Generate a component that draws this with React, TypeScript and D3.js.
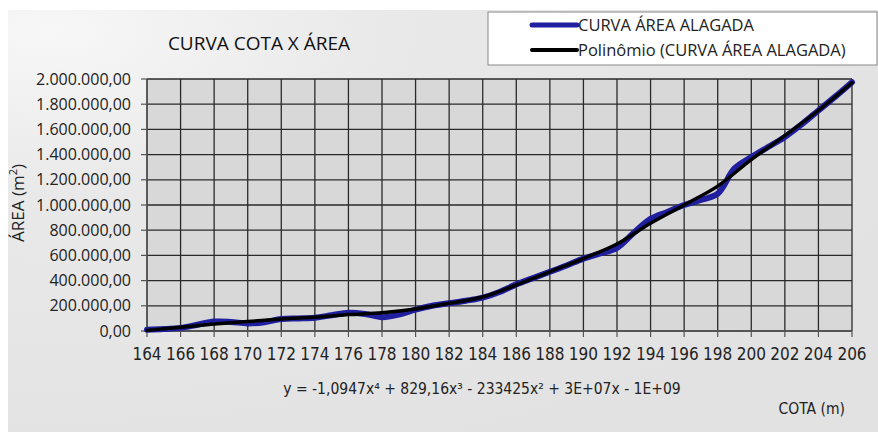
import React from "react";
import * as d3 from "d3";

const cotas = [164,165,166,167,168,169,170,171,172,173,174,175,176,177,178,179,180,181,182,183,184,185,186,187,188,189,190,191,192,193,194,195,196,197,198,199,200,201,202,203,204,205,206];
const areaAlagada = [10000,15000,25000,50000,75000,72000,60000,70000,95000,100000,105000,125000,145000,135000,110000,130000,170000,200000,220000,240000,265000,310000,370000,420000,470000,520000,575000,615000,660000,780000,890000,945000,1000000,1040000,1090000,1290000,1380000,1460000,1540000,1640000,1750000,1860000,1975000];

const trendCotas = [164,166,168,170,172,174,176,178,180,182,184,186,188,190,192,194,196,198,200,202,204,206];
const trendArea = [5000,30000,55000,75000,95000,110000,130000,145000,175000,220000,270000,365000,470000,575000,690000,855000,1000000,1150000,1360000,1550000,1750000,1970000];

const xTicks = d3.range(164, 207, 2);
const yTicks = d3.range(0, 2000001, 200000);

const title = "CURVA COTA X ÁREA";
const seriesNames = ["CURVA ÁREA ALAGADA", "Polinômio (CURVA ÁREA ALAGADA)"];
const equation = "y = -1,0947x⁴ + 829,16x³ - 233425x² + 3E+07x - 1E+09";

const fmt = (v: number) => {
  const s = d3.format(",.2f")(v);
  return s.replace(/,/g, "#").replace(".", ",").replace(/#/g, ".");
};

export default function App() {
  const W = 878, H = 432;
  const L = 147, R = 852, T = 79, B = 331;
  const x = d3.scaleLinear().domain([164, 206]).range([L, R]);
  const y = d3.scaleLinear().domain([0, 2000000]).range([B, T]);
  const line = d3.line<[number, number]>().x(d => x(d[0])).y(d => y(d[1])).curve(d3.curveCatmullRom.alpha(0.5));
  const blue = line(cotas.map((c, i) => [c, areaAlagada[i]] as [number, number])) || "";
  const black = line(trendCotas.map((c, i) => [c, trendArea[i]] as [number, number])) || "";
  const sans = "'Open Sans', sans-serif";
  const narrow = "'Liberation Sans Narrow', 'DejaVu Sans Condensed', sans-serif";
  return (
    <svg width={W} height={H} style={{ position: "absolute", left: 0, top: 0, display: "block" }}>
      <defs>
        <radialGradient id="bg" cx="0.05" cy="0.05" r="1.1">
          <stop offset="0" stopColor="#f7f7f7" />
          <stop offset="0.35" stopColor="#e9e9e9" />
          <stop offset="1" stopColor="#e2e2e2" />
        </radialGradient>
      </defs>
      <rect x={0} y={0} width={W} height={H} fill="#ffffff" />
      <rect x={8} y={10} width={W - 8} height={H - 10} fill="url(#bg)" />
      <text x={259} y={50} textAnchor="middle" fontFamily={sans} fontSize={19} fill="#111">{title}</text>
      <rect x={L} y={T} width={R - L} height={B - T} fill="#d8d8d8" />
      {xTicks.map(t => (
        <line key={"gx" + t} x1={x(t)} x2={x(t)} y1={T} y2={B} stroke="#2a2a2a" strokeWidth={1.3} />
      ))}
      {yTicks.map(t => (
        <line key={"gy" + t} x1={L} x2={R} y1={y(t)} y2={y(t)} stroke="#2a2a2a" strokeWidth={1.3} />
      ))}
      <line x1={L} x2={L} y1={T} y2={B} stroke="#555" strokeWidth={1.5} />
      <line x1={L} x2={R} y1={B} y2={B} stroke="#555" strokeWidth={1.5} />
      {yTicks.map(t => (
        <g key={"ty" + t}>
          <line x1={L - 6} x2={L} y1={y(t)} y2={y(t)} stroke="#555" strokeWidth={1.2} />
          <text x={L - 16} y={y(t) + 5.5} textAnchor="end" fontFamily={sans} fontSize={16} fill="#222">{fmt(t)}</text>
        </g>
      ))}
      {xTicks.map(t => (
        <g key={"tx" + t}>
          <line x1={x(t)} x2={x(t)} y1={B} y2={B + 6} stroke="#555" strokeWidth={1.2} />
          <text x={x(t)} y={B + 29} textAnchor="middle" fontFamily={narrow} fontSize={17} fill="#222">{t}</text>
        </g>
      ))}
      <path d={blue} fill="none" stroke="#1f1fa0" strokeWidth={6} strokeLinejoin="round" strokeLinecap="round" />
      <path d={black} fill="none" stroke="#000" strokeWidth={3.5} strokeLinejoin="round" strokeLinecap="round" />
      <text transform={`translate(24,203) rotate(-90)`} textAnchor="middle" fontFamily={sans} fontSize={17} fill="#222">
        ÁREA (m<tspan dy={-7} fontSize={11}>2</tspan><tspan dy={7}>)</tspan>
      </text>
      <text x={482} y={394} textAnchor="middle" fontFamily={narrow} fontSize={15.5} fill="#222">{equation}</text>
      <text x={845} y={414} textAnchor="end" fontFamily={narrow} fontSize={15.5} fill="#222">COTA (m)</text>
      <rect x={488} y={12} width={389} height={53} fill="#ffffff" stroke="#888" strokeWidth={1} />
      <line x1={532} x2={577} y1={25} y2={25} stroke="#1f1fa0" strokeWidth={5} strokeLinecap="round" />
      <text x={578} y={31} fontFamily={sans} fontSize={16.5} fill="#222">{seriesNames[0]}</text>
      <line x1={532} x2={577} y1={50} y2={50} stroke="#000" strokeWidth={4} strokeLinecap="round" />
      <text x={578} y={56} fontFamily={sans} fontSize={16.5} fill="#222">{seriesNames[1]}</text>
    </svg>
  );
}
